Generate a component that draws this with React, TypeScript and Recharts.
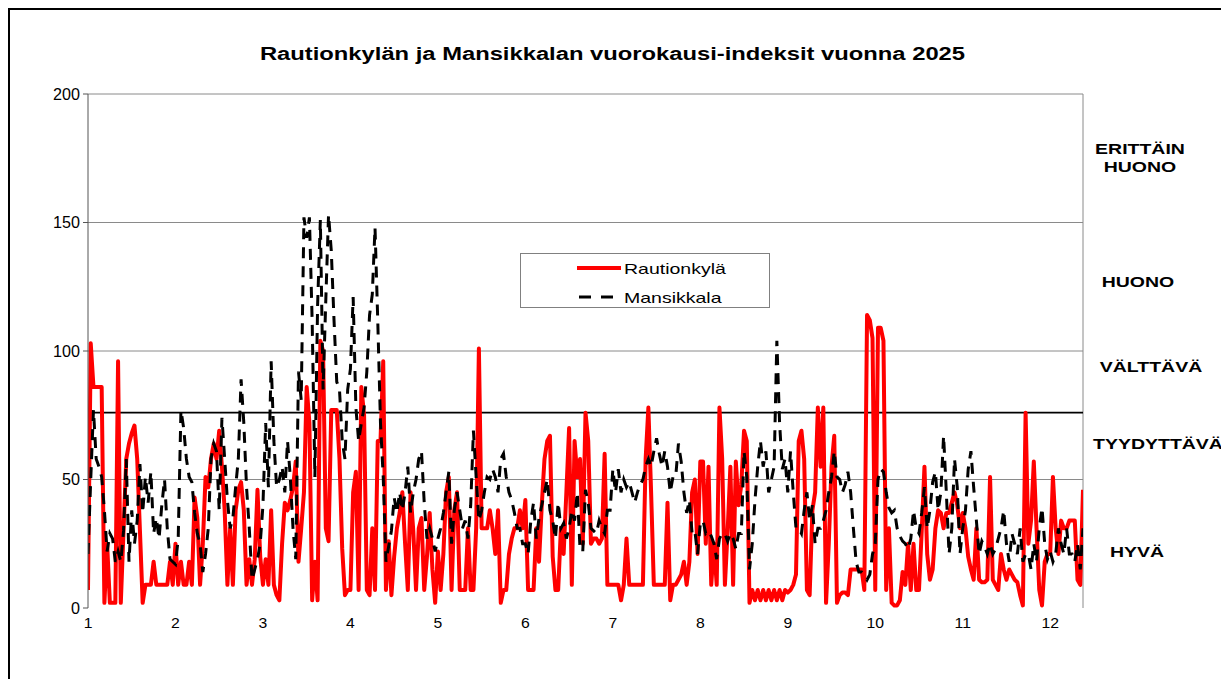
import { Legend, Line, LineChart, ReferenceLine, XAxis, YAxis } from "recharts";

const FONT = '"Liberation Sans", Arial, sans-serif';
const STRETCH = 1.3; // the source picture is stretched sideways, text included
const GRID = "#8a8a8a";
const AXIS = "#555555";

const TITLE = "Rautionkylän ja Mansikkalan vuorokausi-indeksit vuonna 2025";
const SERIES_NAMES = ["Rautionkylä", "Mansikkala"];

// x = day of the year (0..364); tick marks every 30 days, labels 1..12 a bit wider apart
const DAY_TICKS = [0, 30, 60, 90, 120, 150, 180, 210, 240, 270, 300, 330, 360];
const MONTH_TICK_DAYS = [0, 32, 64, 96, 128, 160, 192, 224, 256, 288, 320, 352];
const MONTH_LABELS = ["1", "2", "3", "4", "5", "6", "7", "8", "9", "10", "11", "12"];

const Y_TICKS = [0, 50, 100, 150, 200];
const GRID_LEVELS = [50, 100, 150, 200];
const LIMIT_LEVEL = 76;

const ZONE_NAMES = ["HYVÄ", "TYYDYTTÄVÄ", "VÄLTTÄVÄ", "HUONO", "ERITTÄIN HUONO"];
const ZONE_LABEL_AT = [22, 64, 94, 127, 175];
// the hand-placed zone captions don't share one centre line
const ZONE_NUDGE = [-7, 14, 7, -6, -4];

const RAUTIONKYLA = [
  7, 103, 86, 86, 86, 86, 2, 25, 2, 2,
  2, 96, 2, 30, 58, 64, 68, 71, 58, 30,
  2, 9, 9, 9, 18, 9, 9, 9, 9, 9,
  18, 9, 25, 9, 18, 9, 9, 18, 9, 43,
  35, 9, 25, 51, 47, 58, 64, 58, 69, 55,
  38, 9, 31, 9, 38, 46, 49, 38, 9, 19,
  9, 19, 46, 20, 9, 19, 9, 38, 9, 5,
  3, 25, 41, 38, 42, 47, 57, 18, 31, 45,
  86, 72, 3, 18, 3, 104, 100, 31, 26, 77,
  77, 77, 58, 23, 5, 7, 7, 45, 53, 7,
  86, 75, 7, 5, 31, 7, 65, 65, 96, 7,
  26, 5, 20, 31, 37, 45, 25, 7, 45, 30,
  7, 31, 35, 7, 20, 37, 15, 2, 22, 7,
  21, 45, 51, 7, 38, 45, 7, 7, 7, 31,
  7, 7, 31, 101, 31, 31, 31, 38, 31, 21,
  38, 2, 7, 7, 21, 27, 31, 31, 38, 31,
  42, 7, 7, 7, 31, 18, 40, 58, 65, 67,
  20, 7, 7, 31, 21, 45, 70, 9, 65, 51,
  58, 25, 76, 65, 25, 27, 27, 25, 27, 60,
  9, 9, 9, 9, 9, 3, 9, 27, 9, 9,
  9, 9, 9, 9, 58, 78, 45, 9, 9, 9,
  9, 9, 41, 3, 9, 9, 11, 13, 18, 9,
  18, 45, 50, 21, 57, 57, 25, 55, 9, 25,
  9, 78, 58, 9, 30, 55, 9, 57, 40, 48,
  69, 65, 2, 7, 3, 7, 3, 7, 3, 7,
  3, 7, 3, 7, 3, 7, 6, 7, 9, 13,
  65, 69, 58, 7, 5, 38, 45, 78, 55, 78,
  2, 25, 55, 67, 2, 5, 6, 6, 5, 15,
  15, 15, 15, 15, 7, 114, 112, 105, 7, 109,
  109, 104, 7, 31, 2, 1, 1, 3, 14, 9,
  25, 7, 25, 7, 7, 30, 55, 21, 11, 15,
  31, 38, 37, 31, 37, 37, 41, 45, 40, 31,
  37, 31, 20, 15, 11, 31, 11, 10, 10, 11,
  51, 11, 9, 7, 21, 15, 11, 15, 13, 11,
  10, 5, 1, 76, 25, 34, 57, 31, 7, 1,
  18, 21, 21, 51, 31, 21, 34, 31, 31, 34,
  34, 34, 11, 9, 46,
];

const MANSIKKALA = [
  21, 50, 77, 58, 55, 51, 38, 22, 29, 27,
  18, 22, 18, 30, 58, 18, 38, 25, 34, 56,
  37, 51, 41, 53, 29, 35, 27, 40, 50, 31,
  19, 18, 17, 27, 77, 70, 58, 51, 49, 37,
  29, 25, 14, 21, 31, 58, 64, 61, 38, 74,
  58, 42, 31, 35, 47, 58, 89, 72, 47, 31,
  11, 15, 19, 25, 40, 72, 47, 96, 65, 47,
  50, 55, 45, 65, 51, 31, 19, 92, 81, 152,
  144, 152, 112, 51, 118, 151, 85, 120, 153, 139,
  112, 88, 85, 65, 58, 85, 93, 121, 78, 65,
  72, 78, 92, 114, 122, 148, 112, 72, 51, 18,
  24, 30, 43, 37, 45, 38, 45, 55, 37, 45,
  50, 58, 61, 41, 27, 31, 27, 22, 27, 31,
  37, 45, 53, 25, 38, 45, 38, 31, 34, 27,
  40, 69, 51, 34, 38, 45, 51, 50, 54, 51,
  45, 58, 60, 51, 45, 42, 37, 31, 31, 25,
  25, 21, 34, 41, 27, 35, 40, 45, 50, 38,
  34, 27, 41, 31, 33, 27, 31, 38, 34, 45,
  23, 22, 46, 41, 31, 30, 29, 34, 31, 29,
  38, 38, 54, 45, 54, 45, 50, 47, 49, 45,
  41, 45, 48, 50, 55, 58, 55, 61, 66, 60,
  55, 61, 55, 45, 51, 51, 64, 57, 45, 37,
  42, 29, 30, 21, 33, 34, 29, 30, 28, 25,
  19, 27, 29, 29, 26, 29, 27, 23, 29, 29,
  61, 51, 15, 25, 42, 55, 65, 55, 61, 45,
  50, 55, 104, 72, 54, 58, 45, 61, 45, 31,
  31, 29, 38, 45, 34, 40, 25, 31, 31, 34,
  38, 45, 51, 61, 51, 50, 45, 48, 53, 45,
  31, 18, 14, 14, 13, 11, 13, 21, 25, 50,
  54, 53, 45, 39, 37, 38, 31, 28, 26, 25,
  23, 27, 38, 31, 29, 37, 47, 31, 38, 49,
  53, 38, 45, 67, 45, 21, 31, 58, 47, 21,
  31, 38, 54, 61, 47, 34, 21, 26, 24, 21,
  25, 21, 23, 27, 31, 38, 25, 18, 29, 25,
  21, 31, 18, 21, 21, 15, 25, 18, 31, 39,
  25, 19, 22, 18, 21, 31, 25, 21, 31, 21,
  21, 18, 25, 15, 31,
];

const ROWS = RAUTIONKYLA.map((v, i) => ({ day: i, rautionkyla: v, mansikkala: MANSIKKALA[i] }));

function Stretched({ x, y, anchor, size, bold, scale = STRETCH, children }: any) {
  return (
    <text
      transform={`translate(${x},${y}) scale(${scale},1)`}
      textAnchor={anchor}
      dominantBaseline="central"
      fontSize={size}
      fontWeight={bold ? 700 : 400}
      fontFamily={FONT}
      fill="#000"
    >
      {children}
    </text>
  );
}

const ValueTick = ({ x, y, payload }: any) => (
  <Stretched x={x} y={y} anchor="end" size={17} scale={0.95}>
    {payload.value}
  </Stretched>
);

const MonthTick = ({ x, y, payload }: any) => (
  <Stretched x={x} y={y + 7} anchor="middle" size={15} scale={1.05}>
    {MONTH_LABELS[MONTH_TICK_DAYS.indexOf(payload.value)]}
  </Stretched>
);

const ZoneTick = ({ x, y, payload }: any) => {
  const idx = ZONE_LABEL_AT.indexOf(payload.value);
  const lines = ZONE_NAMES[idx].split(" ");
  return (
    <g>
      {lines.map((line, i) => (
        <Stretched
          key={line}
          x={x + 53 + ZONE_NUDGE[idx]}
          y={y + (i - (lines.length - 1) / 2) * 18}
          anchor="middle"
          size={15}
          bold
        >
          {line}
        </Stretched>
      ))}
    </g>
  );
};

const LegendBox = () => (
  <div
    style={{
      width: 250,
      height: 55,
      boxSizing: "border-box",
      border: "1px solid #808080",
      background: "#fff",
      position: "relative",
      fontFamily: FONT,
    }}
  >
    {SERIES_NAMES.map((name, i) => (
      <div
        key={name}
        style={{ position: "absolute", left: 55, top: i === 0 ? 4 : 33, height: 20, display: "flex", alignItems: "center" }}
      >
        <svg width={46} height={20}>
          {i === 0 ? (
            <line x1={1} x2={45} y1={10} y2={10} stroke="#ff0000" strokeWidth={4} />
          ) : (
            <line x1={3} x2={37} y1={10} y2={10} stroke="#000" strokeWidth={3} strokeDasharray="12 10" />
          )}
        </svg>
        <span
          style={{
            marginLeft: 2,
            fontSize: 15,
            display: "inline-block",
            transform: `scaleX(${STRETCH})`,
            transformOrigin: "left center",
            whiteSpace: "nowrap",
          }}
        >
          {name}
        </span>
      </div>
    ))}
  </div>
);

export default function App() {
  return (
    <div
      style={{
        position: "relative",
        width: 1219,
        height: 669,
        borderTop: "2px solid #000",
        borderLeft: "2px solid #000",
        background: "#fff",
        fontFamily: FONT,
      }}
    >
      <div
        style={{
          position: "absolute",
          left: 0,
          top: 34,
          width: 1205,
          textAlign: "center",
          fontSize: 18,
          fontWeight: 700,
          lineHeight: "20px",
          transform: "scaleX(1.32)",
        }}
      >
        {TITLE}
      </div>
      <LineChart width={1219} height={669} data={ROWS} margin={{ top: 84, right: 0, bottom: 41, left: 18 }}>
        <XAxis
          xAxisId="days"
          dataKey="day"
          type="number"
          domain={[0, 364]}
          allowDataOverflow
          ticks={DAY_TICKS}
          tick={false}
          tickSize={6}
          height={0}
          axisLine={{ stroke: AXIS }}
          tickLine={{ stroke: AXIS }}
        />
        <XAxis
          xAxisId="months"
          dataKey="day"
          type="number"
          domain={[0, 364]}
          allowDataOverflow
          ticks={MONTH_TICK_DAYS}
          tick={<MonthTick />}
          axisLine={false}
          tickLine={false}
          height={30}
        />
        <YAxis
          yAxisId="left"
          type="number"
          domain={[0, 200]}
          ticks={Y_TICKS}
          width={60}
          tickSize={5}
          tickMargin={3}
          tick={<ValueTick />}
          axisLine={{ stroke: AXIS }}
          tickLine={{ stroke: AXIS }}
        />
        <YAxis
          yAxisId="zones"
          orientation="right"
          type="number"
          domain={[0, 200]}
          allowDataOverflow
          ticks={ZONE_LABEL_AT}
          width={146}
          tick={<ZoneTick />}
          axisLine={false}
          tickLine={false}
        />
        {GRID_LEVELS.map((v) => (
          <ReferenceLine key={v} xAxisId="days" yAxisId="left" y={v} stroke={GRID} strokeWidth={1} />
        ))}
        <ReferenceLine xAxisId="days" yAxisId="left" x={364} stroke={GRID} strokeWidth={1} />
        <ReferenceLine xAxisId="days" yAxisId="left" y={LIMIT_LEVEL} stroke="#000" strokeWidth={1.8} />
        <Line
          xAxisId="days"
          yAxisId="left"
          dataKey="rautionkyla"
          name={SERIES_NAMES[0]}
          stroke="#ff0000"
          strokeWidth={4}
          strokeLinejoin="round"
          dot={false}
          activeDot={false}
          isAnimationActive={false}
        />
        <Line
          xAxisId="days"
          yAxisId="left"
          dataKey="mansikkala"
          name={SERIES_NAMES[1]}
          stroke="#000"
          strokeWidth={3}
          strokeDasharray="11 8"
          dot={false}
          activeDot={false}
          isAnimationActive={false}
        />
        <Legend
          layout="horizontal"
          verticalAlign="middle"
          align="center"
          wrapperStyle={{ left: 510, top: 243, width: 250, height: 55 }}
          content={() => <LegendBox />}
        />
      </LineChart>
    </div>
  );
}
